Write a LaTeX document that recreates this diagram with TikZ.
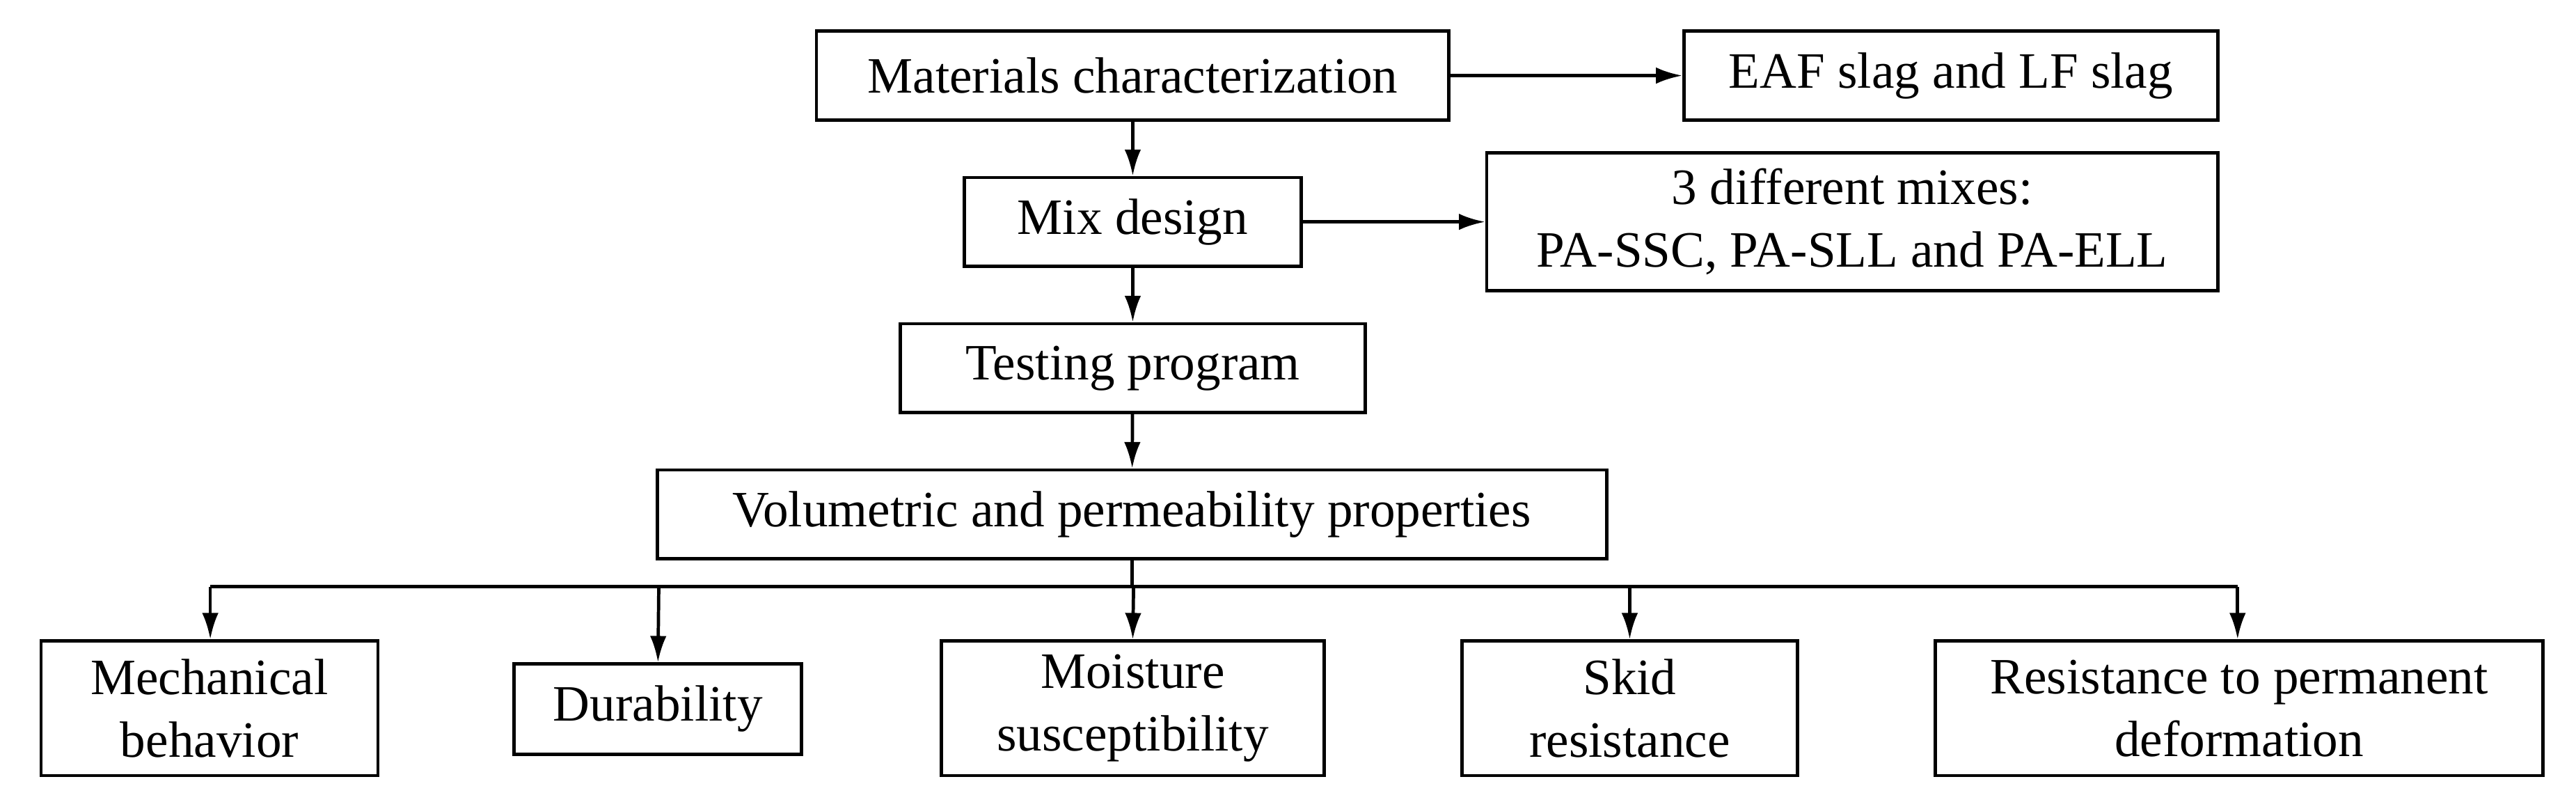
\documentclass[tikz,border=0pt]{standalone}
\usepackage{fontspec}
\setmainfont{Liberation Serif}
\usetikzlibrary{arrows.meta}
\begin{document}
\begin{tikzpicture}[x=1pt,y=-1pt,
  box/.style={draw,line width=2pt,inner sep=0pt,font=\fontsize{31}{38}\selectfont,align=center},
  arr/.style={line width=2pt,-{Latex[length=16pt,width=10pt]}},
  ln/.style={line width=2pt}]
\useasboundingbox (0,0) rectangle (1568,492);
\newcommand\bx[6]{\node[box,minimum width=#4-#2,minimum height=#5-#3] (#1) at ({(#2+#4)/2},{(#3+#5)/2}) {#6};}
\bx{mat}{497}{19}{882}{73}{Materials characterization}
\bx{eaf}{1025}{19}{1350}{73}{EAF slag and LF slag}
\bx{mix}{587}{108}{792}{162}{Mix design}
\bx{mixes}{905}{93}{1350}{177}{3 different mixes:\\PA-SSC, PA-SLL and PA-ELL}
\bx{test}{548}{197}{831}{251}{Testing program}
\bx{vol}{400}{286}{978}{340}{Volumetric and permeability properties}
\bx{mech}{25}{390}{230}{472}{Mechanical\\behavior}
\bx{dur}{313}{404}{488}{459}{Durability}
\bx{moist}{573}{390}{806}{472}{Moisture\\susceptibility}
\bx{skid}{890}{390}{1094}{472}{Skid\\resistance}
\bx{res}{1178}{390}{1548}{472}{Resistance to permanent\\deformation}
\draw[arr] (mat) -- (eaf);
\draw[arr] (mix.east) -- (mix.east -| mixes.west);
\draw[arr] (mat) -- (mix);
\draw[arr] (mix) -- (test);
\draw[arr] (test) -- (vol);
\coordinate (hl) at (128,357);
\coordinate (hr) at (1362,357);
\draw[ln] (vol.south) -- (vol.south |- hl);
\draw[ln] (hl) -- (hr);
\draw[arr] (hl) -- (mech.north -| hl);
\draw[arr] (401,357) -- (dur.north);
\draw[arr] (690,357) -- (moist.north);
\draw[arr] (992,357) -- (skid.north -| 992,0);
\draw[arr] (hr) -- (res.north -| hr);
\end{tikzpicture}
\end{document}
